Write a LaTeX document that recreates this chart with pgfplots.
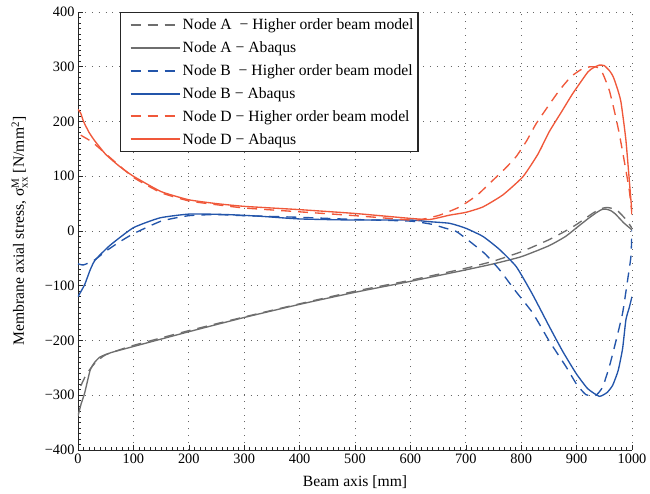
\documentclass[border=0pt]{standalone}
\usepackage{fontspec}
\setmainfont{Liberation Serif}
\usepackage{amsmath}
\usepackage{pgfplots}
\pgfplotsset{compat=1.18}
\definecolor{cgray}{RGB}{110,110,110}
\definecolor{cblue}{RGB}{35,85,170}
\definecolor{cred}{RGB}{240,88,58}
\begin{document}
\begin{tikzpicture}
\begin{axis}[
  scale only axis, width=554bp, height=438bp,
  xmin=0, xmax=1000, ymin=-400, ymax=400,
  axis x line*=bottom, axis y line*=left,
  axis line style={-, black!85, line width=0.7pt},
  xtick={0,100,200,300,400,500,600,700,800,900,1000},
  xticklabels={0,100,200,300,400,500,600,700,800,900,1000},
  ytick={-400,-300,-200,-100,0,100,200,300,400},
  yticklabels={−400,−300,−200,−100,0,100,200,300,400},
  minor x tick num=9, minor y tick num=9,
  tick align=inside,
  major tick length=5bp, minor tick length=3bp,
  tick style={black!85, line width=0.6pt},
  ticklabel style={font=\fontsize{14.4}{16}\selectfont},
  grid=major,
  major grid style={black!60, line width=0.8pt, dash pattern=on 0.9bp off 6bp},
  xlabel={Beam axis [mm]},
  ylabel={Membrane axial stress, σ$^{\text{M}}_{\text{xx}}$ [N/mm$^{\text{2}}$]},
  label style={font=\fontsize{15.7}{18}\selectfont},
  xlabel style={at={(axis description cs:0.5,-0.0838)}, anchor=base},
  ylabel style={at={(axis description cs:-0.0975,0.5)}, anchor=base, rotate=0},
  legend cell align=left,
  legend image code/.code={\path (0bp,0bp); \draw[#1, line width=2bp] (7bp,0bp) -- (56bp,0bp);},
  legend style={at={(rel axis cs:0.0758,1)}, anchor=north west,
    draw=black!85, line width=1.1pt, fill=white,
    font=\fontsize{15.7}{18}\selectfont,
    inner xsep=2.5bp, inner ysep=4bp, row sep=6.6bp},
  every axis plot/.append style={line width=1.35pt, smooth, tension=0.3},
]
\coordinate (BL) at (rel axis cs:0,0);
\coordinate (TR) at (rel axis cs:1,1);
% Node A - higher order
\addplot[cgray, dash pattern=on 10bp off 7bp] coordinates {
(5,-283) (15,-262) (30,-242) (50,-226) (100,-209) (200,-182) (300,-157) (400,-133)
(500,-110) (600,-90) (700,-68) (750,-55) (800,-38) (850,-16) (880,0) (900,12) (930,33)
(945,41) (955,43) (965,41) (975,36) (990,20) (1000,5)};
\addlegendentry{Node A \ − Higher order beam model}
% Node A - Abaqus
\addplot[cgray] coordinates {
(0,-338) (5,-318) (12,-296) (22,-254) (30,-240) (40,-230) (60,-222) (100,-211) (200,-184)
(300,-158) (400,-134) (500,-112) (600,-92) (700,-71) (750,-60) (800,-47) (850,-27)
(880,-10) (900,6) (920,22) (935,33) (945,39) (953,40) (962,37) (970,31) (985,15) (1000,2)};
\addlegendentry{Node A − Abaqus}
% Node B - higher order
\addplot[cblue, dash pattern=on 10bp off 7bp] coordinates {
(0,-60) (10,-62) (30,-53) (50,-37) (75,-20) (100,-5) (150,18) (200,28) (250,30) (300,28)
(400,25) (500,21) (600,18) (640,12) (660,6) (683,-1) (707,-19) (735,-42) (761,-71)
(790,-110) (821,-150) (850,-200) (881,-248) (900,-280) (917,-299) (935,-300) (947,-285)
(959,-248) (970,-205) (983,-150) (992,-90) (998,-47) (1000,2)};
\addlegendentry{Node B \ − Higher order beam model}
% Node B - Abaqus
\addplot[cblue] coordinates {
(0,-120) (12,-98) (22,-71) (31,-53) (58,-26) (100,6) (148,24) (202,31) (268,30) (328,27)
(400,22) (500,20) (600,20) (634,17) (671,14) (700,5) (731,-10) (760,-33) (791,-65)
(820,-115) (851,-175) (875,-220) (899,-260) (920,-288) (941,-302) (955,-295) (965,-282)
(975,-255) (983,-215) (989,-162) (995,-140) (1000,-120)};
\addlegendentry{Node B − Abaqus}
% Node D - higher order
\addplot[cred, dash pattern=on 10bp off 7bp] coordinates {
(5,175) (10,172) (25,163) (40,150) (50,141) (100,98) (150,70) (200,55) (250,48) (300,42)
(400,35) (500,28) (600,20) (620,21) (653,29) (689,44) (720,65) (743,87) (770,113)
(791,136) (810,165) (827,196) (850,230) (869,257) (890,282) (910,296) (925,300)
(937,299) (947,288) (959,257) (968,220) (977,178) (986,128) (995,75) (1000,30)};
\addlegendentry{Node D − Higher order beam model}
% Node D - Abaqus
\addplot[cred] coordinates {
(0,222) (5,215) (10,200) (20,180) (30,165) (50,140) (75,118) (100,100) (150,72) (200,57)
(250,50) (300,45) (400,39) (500,32) (600,23) (635,21) (671,29) (700,34) (731,44) (767,66)
(803,99) (830,140) (851,182) (873,218) (893,251) (920,290) (930,298) (941,303) (950,302)
(960,292) (966,282) (973,262) (980,236) (989,166) (998,57) (1000,35)};
\addlegendentry{Node D − Abaqus}
\end{axis}
\pgfresetboundingbox
\path[use as bounding box] ([shift={(-78bp,-44bp)}]BL) rectangle ([shift={(18bp,12bp)}]TR);
\end{tikzpicture}
\end{document}
